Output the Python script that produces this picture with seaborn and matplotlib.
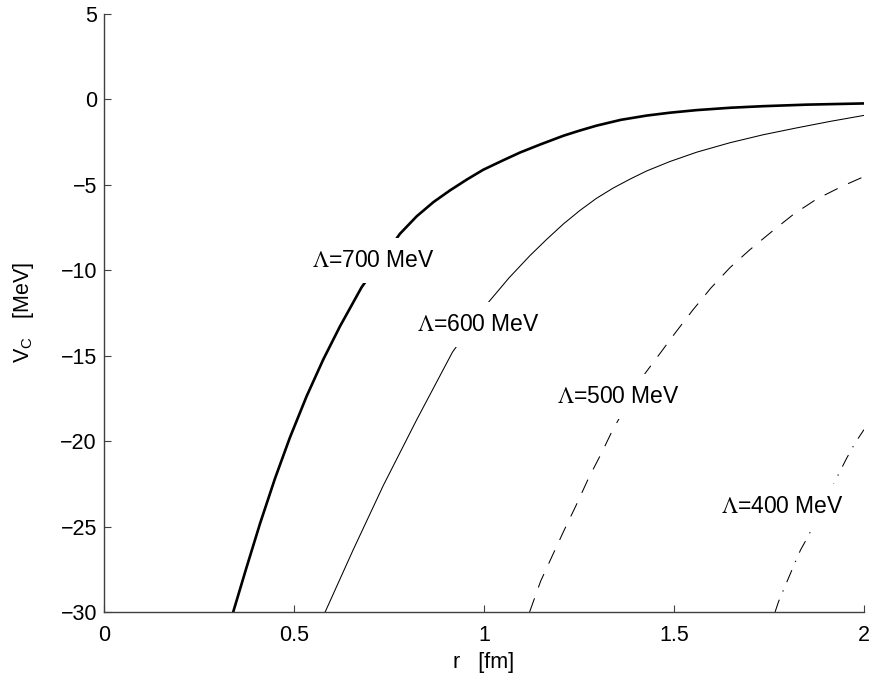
import matplotlib
matplotlib.use("Agg")
import matplotlib.pyplot as plt
import seaborn as sns
import pandas as pd

# Values (r in fm, V_C in MeV)
r_700 = [0.340, 0.375, 0.411, 0.450, 0.489, 0.533, 0.577, 0.621, 0.678, 0.779,
         0.823, 0.867, 0.911, 0.955, 0.998, 1.050, 1.095, 1.147, 1.209, 1.250,
         1.296, 1.360, 1.428, 1.490, 1.560, 1.650, 1.735, 1.850, 2.000]
v_700 = [-30.0, -27.4, -24.8, -22.19, -19.81, -17.39, -15.23, -13.29, -11.0, -7.87,
         -6.85, -6.02, -5.33, -4.70, -4.13, -3.58, -3.12, -2.66, -2.14, -1.85,
         -1.55, -1.21, -0.96, -0.79, -0.64, -0.50, -0.41, -0.32, -0.25]

r_600 = [0.582, 0.656, 0.735, 0.823, 0.917, 1.011, 1.066, 1.121, 1.165, 1.209, 1.253,
         1.296, 1.340, 1.384, 1.428, 1.489, 1.560, 1.647, 1.735, 1.823, 1.911, 2.000]
v_600 = [-30.0, -26.35, -22.6, -18.75, -14.8, -11.9, -10.45, -9.15, -8.2, -7.3, -6.5,
         -5.8, -5.2, -4.68, -4.2, -3.65, -3.1, -2.55, -2.08, -1.68, -1.3, -0.95]

r_500 = [1.120, 1.149, 1.181, 1.211, 1.242, 1.275, 1.310, 1.339, 1.424, 1.459,
         1.503, 1.549, 1.597, 1.647, 1.700, 1.761, 1.816, 1.875, 1.943, 2.000]
v_500 = [-30.0, -28.2, -26.65, -25.21, -23.78, -22.18, -20.67, -19.33, -16.04, -15.0,
         -13.68, -12.35, -11.05, -9.86, -8.80, -7.68, -6.71, -5.85, -5.09, -4.53]

r_400 = [1.766, 1.775, 1.816, 1.833, 1.853, 1.932, 1.954, 1.976, 2.000]
v_400 = [-30.0, -29.4, -27.24, -26.37, -25.57, -21.98, -21.02, -20.13, -19.33]

labels = ["700", "600", "500", "400"]
label_r = [0.547, 0.823, 1.191, 1.625]
label_v = [-9.45, -13.2, -17.4, -23.8]

x_ticks = [0, 0.5, 1, 1.5, 2]
x_ticklabels = ["0", "0.5", "1", "1.5", "2"]
y_ticks = [5, 0, -5, -10, -15, -20, -25, -30]

sns.set_theme(style="ticks")
plt.rcParams["font.family"] = ["Liberation Sans", "DejaVu Sans"]
plt.rcParams["mathtext.fontset"] = "stix"
plt.rcParams["axes.unicode_minus"] = True

fig = plt.figure(figsize=(8.76, 6.81), dpi=100)
ax = fig.add_axes([0.1187, 0.1013, 0.8676, 0.8786])

curves = [
    (r_700, v_700, 1.9, "-"),
    (r_600, v_600, 0.75, "-"),
    (r_500, v_500, 0.75, (0, (14, 11))),
    (r_400, v_400, 0.75, (0, (12.5, 8.5, 1.3, 8.5))),
]
for rr, vv, lw, ls in curves:
    df = pd.DataFrame({"r": rr, "V": vv})
    sns.lineplot(data=df, x="r", y="V", ax=ax, color="black", linewidth=lw,
                 linestyle=ls, estimator=None, sort=True, zorder=2)

for lab, lr, lv in zip(labels, label_r, label_v):
    ax.text(lr, lv, r"$\Lambda$=" + lab + " MeV", fontsize=16.5, ha="left",
            va="center", color="black", zorder=5,
            bbox=dict(facecolor="white", edgecolor="none", pad=8))

ax.set_xlim(0, 2)
ax.set_ylim(-30, 5)
ax.set_xticks(x_ticks)
ax.set_xticklabels(x_ticklabels)
ax.set_yticks(y_ticks)

for side in ["top", "right"]:
    ax.spines[side].set_visible(False)
for side in ["left", "bottom"]:
    ax.spines[side].set_color("#404040")
    ax.spines[side].set_linewidth(1.0)

ax.tick_params(axis="both", direction="in", length=5, width=0.8,
               color="#404040", labelsize=15.5, labelcolor="black")
ax.tick_params(axis="x", pad=9)
ax.tick_params(axis="y", pad=5)

ax.set_xlabel("r   [fm]", fontsize=15.5, color="black")
ax.set_ylabel(r"V$_\mathregular{C}$   [MeV]", fontsize=15.5, color="black")
ax.xaxis.set_label_coords(0.5, -0.066)
ax.yaxis.set_label_coords(-0.09, 0.5)

ax.set_facecolor("white")
fig.patch.set_facecolor("white")
fig.savefig("out.png", dpi=100)
